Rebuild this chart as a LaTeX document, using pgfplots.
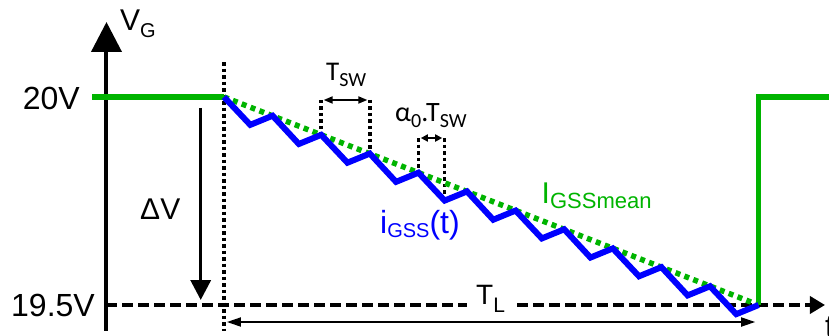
\documentclass[border=0pt]{standalone}
\usepackage{pgfplots}
\pgfplotsset{compat=1.18}
\usepackage{fontspec}
\setmainfont{Liberation Sans}
\newfontfamily\calfont{Carlito}
\usetikzlibrary{arrows.meta}
\definecolor{vgreen}{RGB}{0,180,0}
\definecolor{vblue}{RGB}{0,0,255}
\newcommand{\fs}[1]{\fontsize{#1}{#1}\selectfont}
\begin{document}
\begin{tikzpicture}
\begin{axis}[
  at={(0,0)}, anchor=south west,
  width=829pt, height=336pt, scale only axis,
  xmin=-4.6091, xmax=12.4486,
  ymin=19.42548, ymax=20.23317,
  hide axis, clip=false,
]
% y axis
\draw[line width=4pt, -{Triangle[width=30pt,length=30pt]}] (axis cs:-2.418,19.4375) -- (axis cs:-2.418,20.1803);
% x axis dashed (with gap for T_L)
\draw[line width=3.5pt, dash pattern=on 11pt off 5pt] (axis cs:-2.418,19.5) -- (axis cs:5.0,19.5);
\draw[line width=3.5pt, dash pattern=on 11pt off 5pt, -{Triangle[width=17pt,length=15pt]}] (axis cs:6.03,19.5) -- (axis cs:12.366,19.5);
% dotted vertical at t=0
\addplot[line width=3.5pt, dash pattern=on 3.5pt off 3pt] coordinates {(0,20.0841) (0,19.4375)};
% Tsw markers
\addplot[line width=3.5pt, dash pattern=on 3.5pt off 3pt] coordinates {(2,19.9928) (2,19.909)};
\addplot[line width=3.5pt, dash pattern=on 3.5pt off 3pt] coordinates {(3,19.9928) (3,19.864)};
\draw[line width=1.8pt, {Triangle[width=7pt,length=9pt]}-{Triangle[width=7pt,length=9pt]}] (axis cs:2.05,19.9928) -- (axis cs:2.95,19.9928);
% alpha0 Tsw markers
\addplot[line width=3.5pt, dash pattern=on 3.5pt off 3pt] coordinates {(4,19.9014) (4,19.818)};
\addplot[line width=3.5pt, dash pattern=on 3.5pt off 3pt] coordinates {(4.54,19.9014) (4.54,19.751)};
\draw[line width=1.8pt, {Triangle[width=7pt,length=7pt]}-{Triangle[width=7pt,length=7pt]}] (axis cs:4.05,19.9014) -- (axis cs:4.49,19.9014);
% Delta V arrow
\draw[line width=3.5pt, -{Triangle[width=20pt,length=20pt]}] (axis cs:-0.479,19.9736) -- (axis cs:-0.479,19.512);
% T_L arrow
\draw[line width=1.8pt, {Triangle[width=9pt,length=14pt]}-{Triangle[width=9pt,length=14pt]}] (axis cs:0.06,19.4591) -- (axis cs:10.93,19.4591);
% green gate voltage
\addplot[vgreen, line width=5.5pt] coordinates {(-2.716,20) (0,20)};
\addplot[vgreen, line width=5.5pt, dash pattern=on 5pt off 4.5pt] coordinates {(0,20) (11,19.5)};
\addplot[vgreen, line width=5.5pt, line join=miter] coordinates {(10.994,19.5) (10.994,20) (12.6,20)};
% blue zigzag
\addplot[vblue, line width=6pt, line join=miter] coordinates {
(0,20) (0.54,19.933) (1,19.955) (1.54,19.887) (2,19.909) (2.54,19.842)
(3,19.864) (3.54,19.796) (4,19.818) (4.54,19.751) (5,19.773) (5.54,19.705)
(6,19.727) (6.54,19.660) (7,19.682) (7.54,19.614) (8,19.636) (8.54,19.569)
(9,19.591) (9.54,19.523) (10,19.545) (10.54,19.478) (11,19.5)};
% labels
\node[anchor=base west, inner sep=0pt] at (axis cs:-2.140,20.161) {\fs{30}V\raisebox{-7pt}{\fs{20}G}};
\node[anchor=base east, inner sep=0pt] at (axis cs:-2.963,19.9704) {\fs{32}20V};
\node[anchor=base east, inner sep=0pt] at (axis cs:-2.654,19.4719) {\fs{32}19.5V};
\node[anchor=base west, inner sep=0pt] at (axis cs:-1.728,19.706) {\fs{30}ΔV};
\node[anchor=base west, inner sep=0pt] at (axis cs:5.185,19.5) {\fs{28}T\raisebox{-8pt}{\fs{21}L}};
\node[anchor=base west, inner sep=0pt, text=vgreen] at (axis cs:6.533,19.7445) {\fs{30}I\raisebox{-5pt}{\fs{22}GSSmean}};
\node[anchor=base west, inner sep=0pt, text=vblue] at (axis cs:3.210,19.6707) {\fs{32}i\raisebox{-4pt}{\fs{20}GSS}(t)};
\node[anchor=base west, inner sep=0pt] at (axis cs:2.099,20.0385) {\calfont\fs{27}T\raisebox{-6pt}{\fs{20}SW}};
\node[anchor=base west, inner sep=0pt] at (axis cs:3.519,19.9399) {\calfont\fs{28}α\raisebox{-6pt}{\fs{20}0}.T\raisebox{-6pt}{\fs{20}SW}};
\node[anchor=base west, inner sep=0pt] at (axis cs:12.366,19.423) {\fs{32}t};
\end{axis}
\pgfresetboundingbox
\path[use as bounding box] (0,0) rectangle (829pt,336pt);
\end{tikzpicture}
\end{document}
